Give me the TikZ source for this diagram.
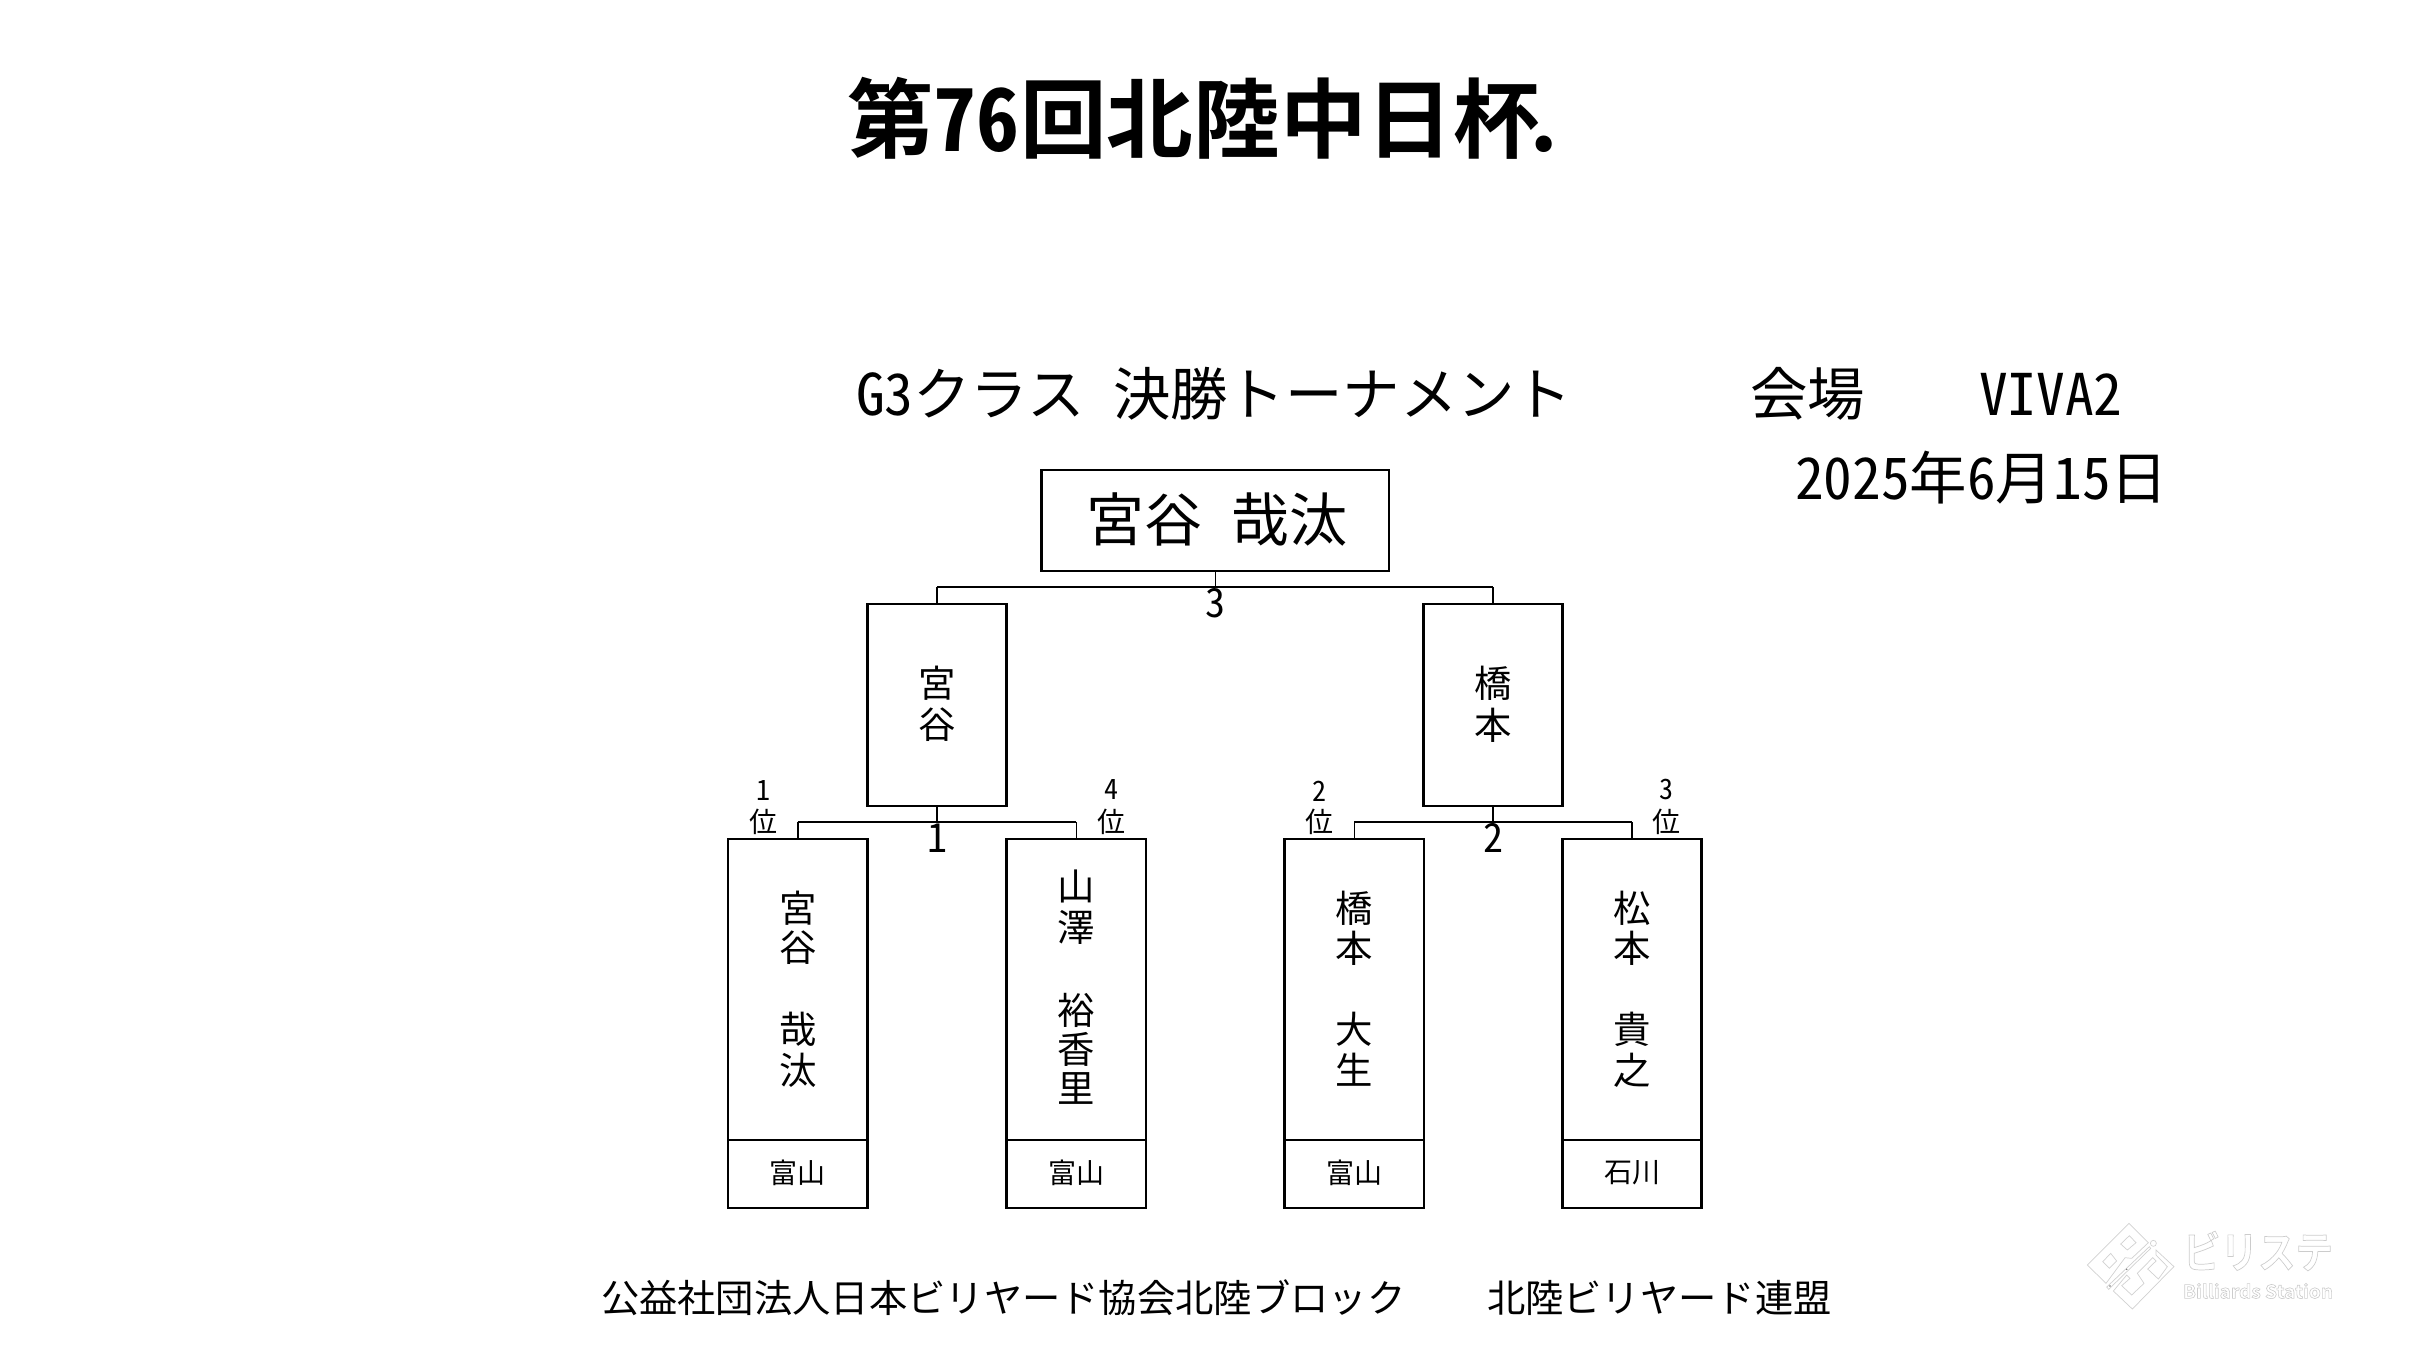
\documentclass[tikz,border=0pt]{standalone}
\usepackage{fontspec}
\setmainfont{Noto Sans CJK JP}
\newfontfamily\hw{Noto Sans CJK JP}[RawFeature=+hwid]
\newfontfamily\hwb{Noto Sans CJK JP Bold}[RawFeature=+hwid]
\newfontfamily\jb{Noto Sans CJK JP Bold}
\newcommand{\fs}[1]{\fontsize{#1}{#1}\selectfont}
\newcommand{\outl}[1]{\special{pdf:code q 1 Tr 0.3 w 0.8 0.8 0.8 RG}#1\special{pdf:code Q}}
\tikzset{
  x=0.5pt,y=-0.5pt,
  boxline/.style={draw=black,line width=1.3pt,inner sep=0pt,outer sep=0pt},
  conn/.style={draw=black,line width=1.2pt},
  thin conn/.style={draw=black,line width=0.8pt},
  txt/.style={inner sep=0pt,outer sep=0pt,anchor=center,align=center},
  mark line/.style={draw=black!18,line width=0.35pt},
  namecol/.style={txt,font=\fs{18.7}},
  pref/.style={txt,font=\fs{14}},
  rankn/.style={txt,font=\fs{14}\hw},
  roundn/.style={txt,font=\fs{20}\hw},
}
\begin{document}
\begin{tikzpicture}
\useasboundingbox (0,0) rectangle (2424,1364);
% title
\node[txt,anchor=west,font=\fs{43.3}] (title) at (847,118) {\jb 第{\hwb 76}回北陸中日杯\kern-0.2em{\hwb .}};
\node[txt,anchor=west,font=\fs{28.7}] (sub) at (856,394) {{\hw G3}クラス{\hw\ }決勝トーナメント};
\node[txt,anchor=west,font=\fs{28.7}] (venue) at (1750,394) {会場};
\node[txt,anchor=west,font=\fs{28.7}\hw] (viva) at (1979,394) {VIVA2};
\node[txt,anchor=west,font=\fs{28.7}] (date) at (1795,478) {{\hw 2025}年{\hw 6}月{\hw 15}日};
% boxes
\node[boxline,minimum width=173.75pt,minimum height=50.5pt] (champ) at (1215.3,520.5) {};
\node[txt,font=\fs{29}] (champt) at (1217,519) {宮谷{\hw\ }哉汰};
\foreach \n/\x in {sl/937,sr/1493}{
  \node[boxline,minimum width=69.65pt,minimum height=101pt] (\n) at (\x,705) {};
}
\node[namecol] (slt) at (937,683) {宮};
\node[namecol] (slb) at (937,725) {谷};
\node[namecol] (srt) at (1493,683) {橋};
\node[namecol] (srb) at (1493,725) {本};
\foreach \n/\x/\p in {a/797.7/富山,b/1076.4/富山,c/1354.3/富山,d/1632/石川}{
  \node[boxline,minimum width=69.65pt,minimum height=150.5pt] (\n) at (\x,989.5) {};
  \node[boxline,minimum width=69.65pt,minimum height=34pt] (\n p) at (\x,1174) {};
  \node[pref] (\n pt) at (\x,1173) {\p};
}
% names
\node[namecol] (a1) at (797.7,908) {宮};
\node[namecol] (a2) at (797.7,948) {谷};
\node[namecol] (a3) at (797.7,1029) {哉};
\node[namecol] (a4) at (797.7,1070) {汰};
\node[namecol] (b1) at (1076.4,886) {山};
\node[namecol] (b2) at (1076.4,927) {澤};
\node[namecol] (b3) at (1076.4,1010) {裕};
\node[namecol] (b4) at (1076.4,1049) {香};
\node[namecol] (b5) at (1076.4,1088) {里};
\node[namecol] (c1) at (1354.3,908) {橋};
\node[namecol] (c2) at (1354.3,948) {本};
\node[namecol] (c3) at (1354.3,1029) {大};
\node[namecol] (c4) at (1354.3,1070) {生};
\node[namecol] (d1) at (1632,908) {松};
\node[namecol] (d2) at (1632,948) {本};
\node[namecol] (d3) at (1632,1029) {貴};
\node[namecol] (d4) at (1632,1070) {之};
% connectors
\coordinate (j0) at (1215.3,587);
\coordinate (j1) at (937,822);
\coordinate (j2) at (1493,822);
\draw[thin conn] (champ.south) -- (j0);
\draw[conn] (j0) -- (sl.north |- j0);
\draw[conn] (j0) -- (sr.north |- j0);
\draw[thin conn] (sl.north |- j0) -- (sl.north);
\draw[thin conn] (sr.north |- j0) -- (sr.north);
\draw[thin conn] (sl.south) -- (j1);
\draw[thin conn] (sr.south) -- (j2);
\draw[conn] (a.north |- j1) -- (b.north |- j1);
\draw[conn] (c.north |- j2) -- (d.north |- j2);
\draw[thin conn] (a.north |- j1) -- (a.north);
\draw[thin conn] (b.north |- j1) -- (b.north);
\draw[thin conn] (c.north |- j2) -- (c.north);
\draw[thin conn] (d.north |- j2) -- (d.north);
% round numbers
\node[roundn] (r3) at (1215.3,603) {3};
\node[roundn] (r1) at (937,838) {1};
\node[roundn] (r2) at (1493,838) {2};
% ranks
\node[rankn] (ra) at (763.6,790) {1};
\node[pref] (rau) at (763.6,822) {位};
\node[rankn] (rb) at (1111.8,789) {4};
\node[pref] (rbu) at (1111,822) {位};
\node[rankn] (rc) at (1319.4,791) {2};
\node[pref] (rcu) at (1319.4,822) {位};
\node[rankn] (rd) at (1666.3,789) {3};
\node[pref] (rdu) at (1666.3,822) {位};
% footer
\node[txt,anchor=west,font=\fs{19.15}] (f1) at (601,1298) {公益社団法人日本ビリヤード協会北陸ブロック};
\node[txt,anchor=west,font=\fs{19.15}] (f2) at (1487,1298) {北陸ビリヤード連盟};
% watermark
\begin{scope}[shift={(2080,1215)},x=0.1667pt,y=-0.1667pt]
\draw[mark line] (147,25) -- (205,83) -- (155,130) -- (135,128) -- (78,205) -- (22,150) -- cycle;
\draw[mark line] (148,62) -- (168,83) -- (142,105) -- (122,87) -- cycle;
\draw[mark line] (92,115) -- (110,138) -- (88,160) -- (68,140) -- cycle;
\draw[mark line] (228,105) -- (282,155) -- (243,194) -- (157,282) -- (100,228) -- (140,180) -- (150,190) -- (125,212) -- (155,240) -- (192,205) -- (172,175) -- (218,128) -- (228,138) -- (203,162) -- (235,192) -- (262,155) -- (228,120) -- cycle;
\draw[mark line] (208,95) -- (80,216) -- (86,223) -- (212,100) -- cycle;
\draw[mark line] (220,85) circle (9);
\fill[black!55] (140,163) circle (2.5);
\fill[black!55] (90,213) circle (2.5);
\end{scope}
\node[txt,anchor=west,font=\fs{18}\jb] (wm1) at (2183,1251) {\outl{\resizebox{75pt}{18.5pt}{ビリステ}}};
\node[txt,anchor=west,font=\fs{9}\jb] (wm2) at (2183,1291) {\outl{\resizebox{75pt}{7.5pt}{Billiards Station}}};
\end{tikzpicture}
\end{document}
